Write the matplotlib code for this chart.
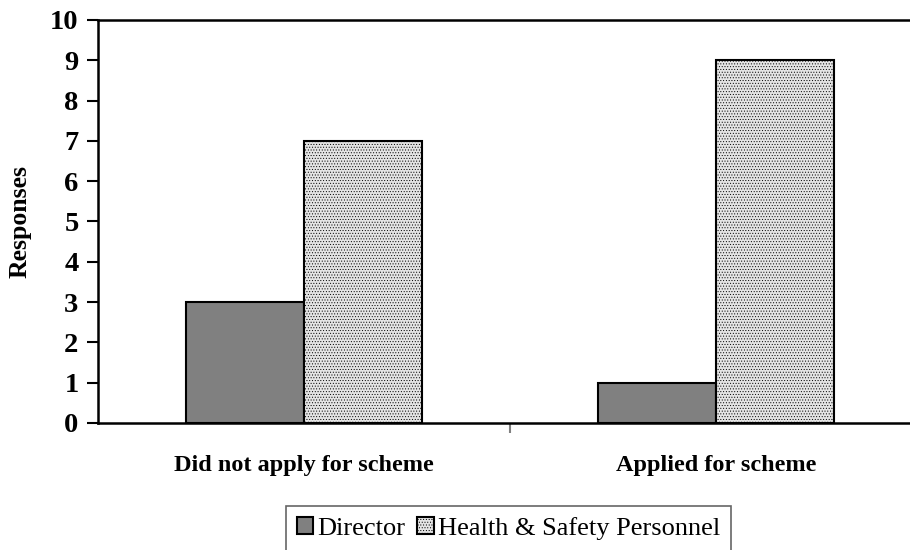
import matplotlib
matplotlib.use("Agg")
import matplotlib.pyplot as plt
import numpy as np

categories = ["Did not apply for scheme", "Applied for scheme"]
series_names = ["Director", "Health & Safety Personnel"]
director = [3, 1]
hsp = [7, 9]
yticks = list(range(0, 11))

W, H = 910, 550
fig = plt.figure(figsize=(W / 100, H / 100), dpi=100)
plt.rcParams['font.family'] = ['Liberation Serif', 'DejaVu Serif']
plt.rcParams['hatch.color'] = '#d2d2d2'
plt.rcParams['hatch.linewidth'] = 0.4

left, right, top, bottom = 98, 922, 20, 423
ax = fig.add_axes([left / W, 1 - bottom / H, (right - left) / W, (bottom - top) / H])

x = np.arange(len(categories))
bw = 1 / 3.5
ax.bar(x - bw / 2, director, bw, color='#808080', edgecolor='black', linewidth=1.5,
       label=series_names[0])
ax.bar(x + bw / 2, hsp, bw, color='#e4e4e4', edgecolor='black', linewidth=1.5,
       hatch='......', label=series_names[1])

ax.set_xlim(-0.5, len(categories) - 0.5)
ax.set_ylim(0, 10)
ax.set_yticks(yticks)
ax.set_yticklabels([str(t) for t in yticks], fontsize=20.5, fontweight='bold')
ax.tick_params(axis='y', direction='out', length=8, width=1.5, pad=6)

ax.set_xticks(x)
ax.set_xticklabels(categories, fontsize=17.5, fontweight='bold')
ax.tick_params(axis='x', length=0, pad=23)
ax.set_xticks([0.5], minor=True)
ax.tick_params(axis='x', which='minor', direction='out', length=7, width=1.5, color='#808080')

for s in ax.spines.values():
    s.set_linewidth(1.8)
    s.set_color('black')

ax.set_ylabel("Responses", fontsize=18.5, fontweight='bold')
ax.yaxis.set_label_coords(-66 / (right - left), 0.5)

leg = ax.legend(loc='upper left', bbox_to_anchor=(286 / W, 1 - 506 / H), bbox_transform=fig.transFigure,
                ncol=2, frameon=True, fontsize=19, handlelength=0.62, handleheight=0.62,
                handletextpad=0.15, columnspacing=0.45, borderpad=0.42, fancybox=False,
                borderaxespad=0)
leg.get_frame().set_edgecolor('#404040')
leg.get_frame().set_linewidth(1.2)

fig.savefig("out.png", dpi=100)
